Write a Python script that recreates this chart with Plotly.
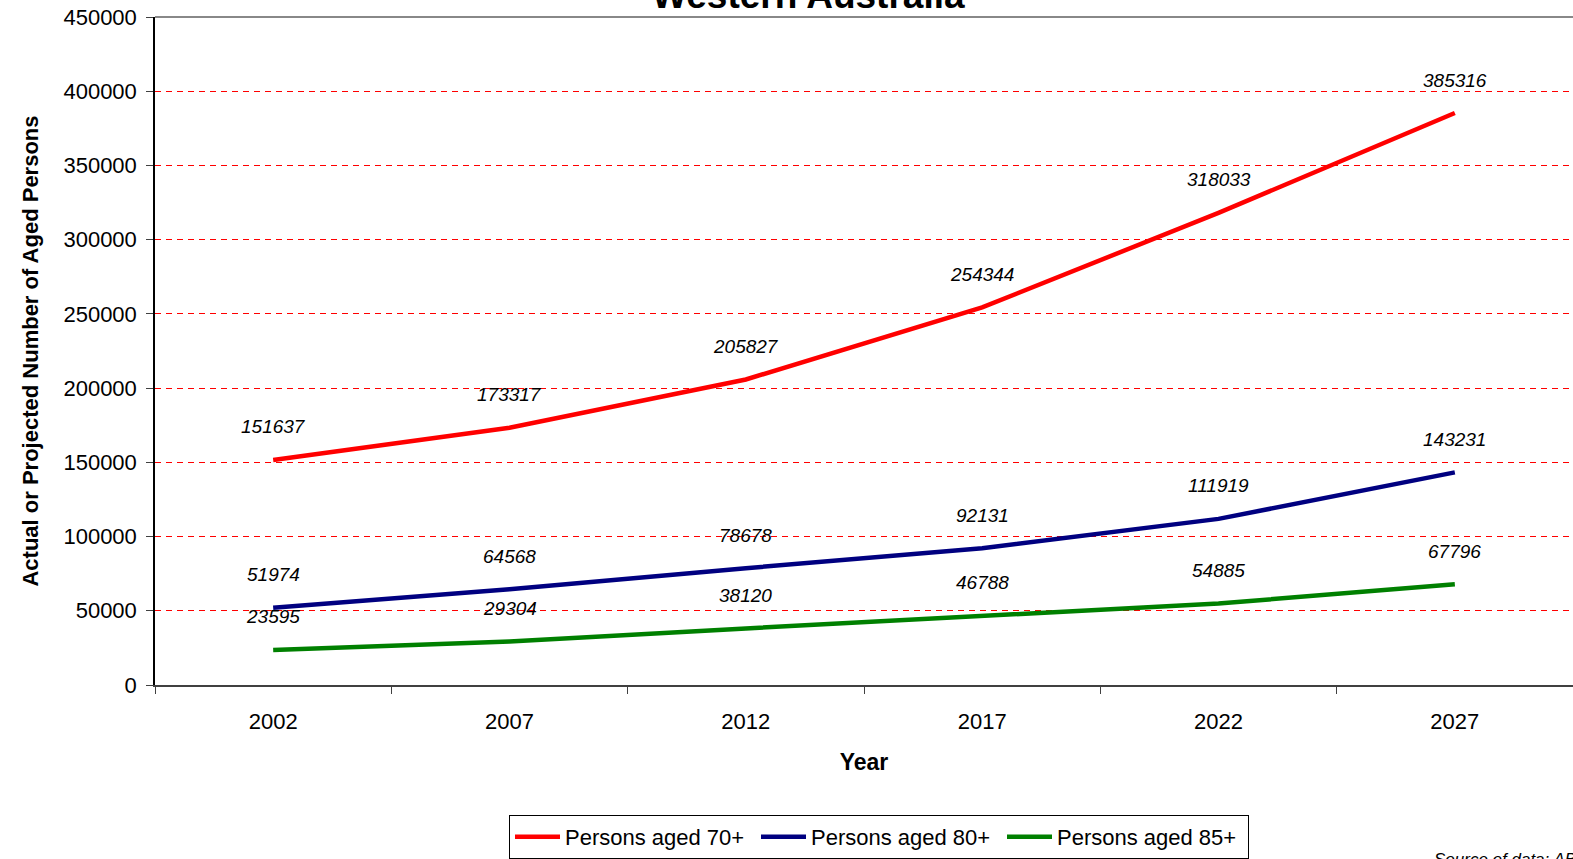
import plotly.graph_objects as go

years = ["2002", "2007", "2012", "2017", "2022", "2027"]
aged70 = [151637, 173317, 205827, 254344, 318033, 385316]
aged80 = [51974, 64568, 78678, 92131, 111919, 143231]
aged85 = [23595, 29304, 38120, 46788, 54885, 67796]
series_names = ["Persons aged 70+", "Persons aged 80+", "Persons aged 85+"]
series_colors = ["#FF0000", "#000080", "#008000"]
y_ticks = [0, 50000, 100000, 150000, 200000, 250000, 300000, 350000, 400000, 450000]

FONT = "Liberation Sans, Arial, sans-serif"
W, H = 1573, 859
L, R, T, B = 155, 0, 17, 859 - 685
PH = H - T - B
PW = W - L - R


def py(p):
    """page pixel row -> paper y"""
    return (H - B - p) / PH


def px(p):
    """page pixel column -> paper x"""
    return (p - L) / PW


fig = go.Figure()
for name, vals, col in zip(series_names, [aged70, aged80, aged85], series_colors):
    fig.add_trace(go.Scatter(x=years, y=vals, mode="lines", name=name,
                             line=dict(color=col, width=4.5)))

annotations = []
for vals in [aged70, aged80, aged85]:
    for i, v in enumerate(vals):
        annotations.append(dict(x=i, y=v, xref="x", yref="y", text=f"<i>{v}</i>",
                                showarrow=False, yshift=33,
                                font=dict(family=FONT, size=19, color="black")))

annotations.append(dict(x=px(808), y=1, xref="paper", yref="paper",
                        text="<b>Western Australia</b>",
                        showarrow=False, yanchor="middle", yshift=22,
                        font=dict(family=FONT, size=37, color="black")))
annotations.append(dict(x=px(1432), y=py(848), xref="paper", yref="paper",
                        text="<i>Source of data: ABS</i>",
                        showarrow=False, xanchor="left", yanchor="top",
                        font=dict(family=FONT, size=17, color="black")))

fig.update_layout(
    width=W, height=H,
    margin=dict(l=L, r=R, t=T, b=B, pad=0),
    plot_bgcolor="white", paper_bgcolor="white",
    font=dict(family=FONT, size=22, color="black"),
    showlegend=True,
    legend=dict(orientation="h", x=px(879), xanchor="center",
                y=py(815), yanchor="top",
                bordercolor="black", borderwidth=1, font=dict(size=22),
                itemwidth=45, entrywidth=186, entrywidthmode="pixels"),
    annotations=annotations,
)

fig.update_xaxes(type="category", range=[-0.5, 5.5], autorange=False, automargin=False,
                 showline=True, linecolor="#404040", linewidth=1.5,
                 ticks="outside", tickson="boundaries", ticklen=7, tickcolor="#404040",
                 showgrid=False, tickfont=dict(size=22), tickangle=0, ticklabelstandoff=16,
                 title=dict(text="<b>Year</b>", font=dict(size=23), standoff=21))
fig.update_yaxes(range=[0, 450000], autorange=False, automargin=False,
                 tickvals=y_ticks, tickformat="d", ticklabeloverflow="allow",
                 showline=True, linecolor="black",
                 linewidth=1.5, ticks="outside", ticklen=7, tickcolor="#404040",
                 showgrid=True, gridcolor="#FF0000", griddash="6px,5px", gridwidth=1,
                 zeroline=False, tickfont=dict(size=22), ticklabelstandoff=5,
                 title=dict(text="<b>Actual or Projected Number of Aged Persons</b>",
                            font=dict(size=22), standoff=19))

fig.add_shape(type="line", xref="paper", yref="paper", x0=0, x1=1, y0=1, y1=1,
              line=dict(color="#888888", width=2))

fig.write_html("out.html", config={"displayModeBar": False},
               post_script="document.body.style.margin='0';")
